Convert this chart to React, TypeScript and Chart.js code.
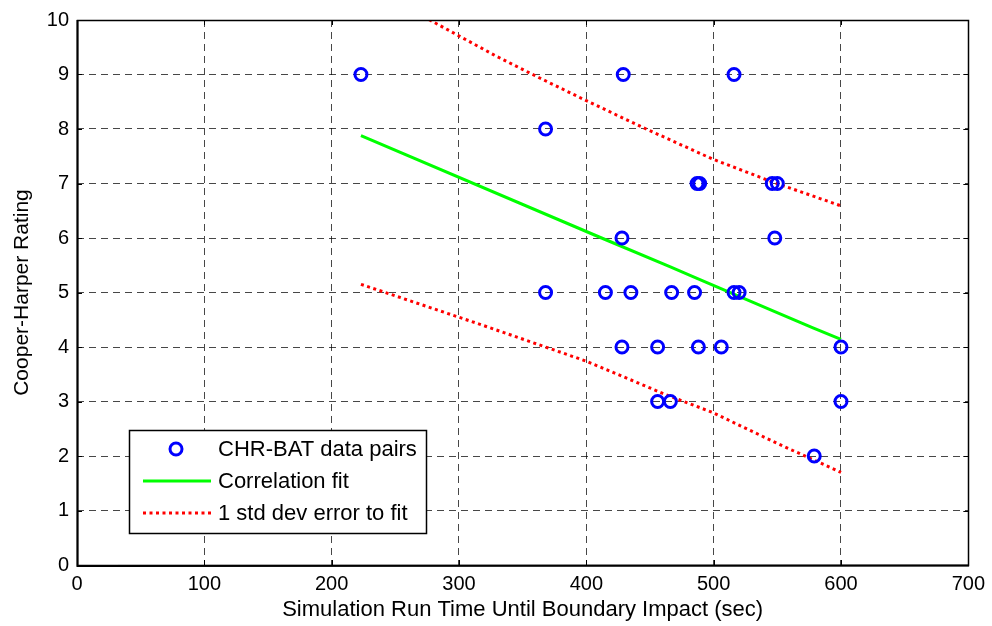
import React, { useEffect, useRef } from 'react';
import { Chart, registerables } from 'chart.js';

Chart.register(...registerables);

// CHR-BAT data pairs (run time in sec, Cooper-Harper rating)
const pairTimes = [223, 429, 516, 368, 487, 489, 546, 550, 428, 548, 368, 415, 435, 467, 485, 516, 520, 428, 456, 488, 506, 600, 456, 466, 600, 579];
const pairRatings = [9, 9, 9, 8, 7, 7, 7, 7, 6, 6, 5, 5, 5, 5, 5, 5, 5, 4, 4, 4, 4, 4, 3, 3, 3, 2];

// Correlation fit
const fitTimes = [223, 412, 466, 486, 548, 578, 600];
const fitRatings = [7.88, 6.0, 5.47, 5.27, 4.65, 4.35, 4.14];

// 1 std dev error bands
const upperTimes = [223, 277, 329, 363, 400, 447, 499, 546, 600];
const upperRatings = [10.7, 10.0, 9.34, 8.94, 8.52, 8.0, 7.45, 7.03, 6.59];
const lowerTimes = [223, 316, 400, 462, 499, 551, 600];
const lowerRatings = [5.15, 4.42, 3.74, 3.13, 2.8, 2.22, 1.7];

const xTickValues = [0, 100, 200, 300, 400, 500, 600, 700];
const yTickValues = [0, 1, 2, 3, 4, 5, 6, 7, 8, 9, 10];

const seriesLabels = ['CHR-BAT data pairs', 'Correlation fit', '1 std dev error to fit'];
const xTitle = 'Simulation Run Time Until Boundary Impact (sec)';
const yTitle = 'Cooper-Harper Rating';

const FONT = '"Liberation Sans", Arial, Helvetica, sans-serif';

const toPoints = (xs: number[], ys: number[]) => xs.map((x, i) => ({ x, y: ys[i] }));

const boxPlugin = {
  id: 'matlabBox',
  afterDatasetsDraw(chart: any) {
    const { ctx, chartArea } = chart;
    const xs = chart.scales.x;
    const ys = chart.scales.y;
    const { left, right, top, bottom } = chartArea;
    ctx.save();
    ctx.strokeStyle = '#000';
    ctx.lineWidth = 1;
    ctx.setLineDash([]);
    const t = 5;
    ctx.beginPath();
    xTickValues.forEach((v) => {
      const px = Math.round(xs.getPixelForValue(v)) + 0.5;
      ctx.moveTo(px, bottom);
      ctx.lineTo(px, bottom - t);
      ctx.moveTo(px, top);
      ctx.lineTo(px, top + t);
    });
    yTickValues.forEach((v) => {
      const py = Math.round(ys.getPixelForValue(v)) + 0.5;
      ctx.moveTo(left, py);
      ctx.lineTo(left + t, py);
      ctx.moveTo(right, py);
      ctx.lineTo(right - t, py);
    });
    ctx.stroke();
    ctx.lineWidth = 1.5;
    ctx.strokeRect(Math.round(left) + 0.5, Math.round(top) + 0.5, Math.round(right - left), Math.round(bottom - top));
    // slightly heavier left and bottom axis lines
    ctx.lineWidth = 2;
    ctx.beginPath();
    ctx.moveTo(Math.round(left) + 0.5, Math.round(top));
    ctx.lineTo(Math.round(left) + 0.5, Math.round(bottom) + 1);
    ctx.lineTo(Math.round(right) + 1, Math.round(bottom) + 0.5);
    ctx.stroke();
    ctx.restore();
  },
  afterDraw(chart: any) {
    const { ctx, chartArea } = chart;
    const ds = chart.data.datasets;
    const bx = chartArea.left + 52;
    const by = chartArea.bottom - 135;
    const bw = 297;
    const bh = 103;
    ctx.save();
    ctx.fillStyle = '#fff';
    ctx.fillRect(bx, by, bw, bh);
    ctx.strokeStyle = '#000';
    ctx.lineWidth = 1.5;
    ctx.setLineDash([]);
    ctx.strokeRect(bx + 0.5, by + 0.5, bw, bh);
    const rows = [by + 19, by + 51, by + 83];
    const lx1 = bx + 14;
    const lx2 = bx + 82;
    // points sample
    ctx.beginPath();
    ctx.strokeStyle = ds[0].borderColor;
    ctx.lineWidth = ds[0].borderWidth;
    ctx.arc(bx + 47, rows[0], ds[0].pointRadius, 0, Math.PI * 2);
    ctx.stroke();
    // fit sample
    ctx.beginPath();
    ctx.strokeStyle = ds[1].borderColor;
    ctx.lineWidth = ds[1].borderWidth;
    ctx.moveTo(lx1, rows[1]);
    ctx.lineTo(lx2, rows[1]);
    ctx.stroke();
    // error sample
    ctx.beginPath();
    ctx.strokeStyle = ds[2].borderColor;
    ctx.lineWidth = ds[2].borderWidth;
    ctx.setLineDash(ds[2].borderDash);
    ctx.moveTo(lx1, rows[2]);
    ctx.lineTo(lx2, rows[2]);
    ctx.stroke();
    ctx.setLineDash([]);
    ctx.fillStyle = '#000';
    ctx.font = `22px ${FONT}`;
    ctx.textBaseline = 'middle';
    ctx.textAlign = 'left';
    seriesLabels.forEach((s, i) => ctx.fillText(s, bx + 89, rows[i] + 1));
    ctx.restore();
  },
};

export default function App() {
  const ref = useRef<HTMLCanvasElement | null>(null);
  useEffect(() => {
    if (!ref.current) return;
    const gridColor = 'rgba(0,0,0,0.72)';
    const chart = new Chart(ref.current, {
      type: 'scatter',
      data: {
        datasets: [
          {
            label: seriesLabels[0],
            data: toPoints(pairTimes, pairRatings),
            showLine: false,
            pointRadius: 6,
            pointStyle: 'circle',
            borderColor: '#0000ff',
            backgroundColor: 'rgba(0,0,0,0)',
            borderWidth: 3,
            pointBorderWidth: 3,
            order: 0,
          } as any,
          {
            label: seriesLabels[1],
            data: toPoints(fitTimes, fitRatings),
            showLine: true,
            pointRadius: 0,
            borderColor: '#00ff00',
            borderWidth: 3,
            tension: 0,
            order: 1,
          },
          {
            label: seriesLabels[2],
            data: toPoints(upperTimes, upperRatings),
            showLine: true,
            pointRadius: 0,
            borderColor: '#ff0000',
            borderWidth: 3,
            borderDash: [3, 3.5],
            tension: 0,
            order: 2,
          },
          {
            label: '',
            data: toPoints(lowerTimes, lowerRatings),
            showLine: true,
            pointRadius: 0,
            borderColor: '#ff0000',
            borderWidth: 3,
            borderDash: [3, 3.5],
            tension: 0,
            order: 3,
          },
        ],
      },
      options: {
        animation: false,
        responsive: true,
        maintainAspectRatio: false,
        layout: { padding: { top: 17, right: 22, left: 0, bottom: 0 } },
        plugins: {
          legend: { display: false },
          tooltip: { enabled: false },
        },
        scales: {
          x: {
            type: 'linear',
            min: 0,
            max: 700,
            afterFit: (s: any) => { s.height = 61; },
            afterBuildTicks: (s: any) => { s.ticks = xTickValues.map((v) => ({ value: v })); },
            ticks: { color: '#000', font: { family: FONT, size: 20 }, padding: 7, maxRotation: 0 },
            grid: { color: gridColor, lineWidth: 1, drawTicks: false },
            border: { display: false, dash: [7, 5] },
            title: { display: true, text: xTitle, color: '#000', font: { family: FONT, size: 22 }, padding: { top: 0, bottom: 3 } },
          },
          y: {
            type: 'linear',
            min: 0,
            max: 10,
            afterFit: (s: any) => { s.width = 77; },
            afterBuildTicks: (s: any) => { s.ticks = yTickValues.map((v) => ({ value: v })); },
            ticks: { color: '#000', font: { family: FONT, size: 20 }, padding: 8 },
            grid: { color: gridColor, lineWidth: 1, drawTicks: false },
            border: { display: false, dash: [7, 5] },
            title: { display: true, text: yTitle, color: '#000', font: { family: FONT, size: 21 }, padding: { top: 10, bottom: 0 } },
          },
        },
      },
      plugins: [boxPlugin],
    });
    return () => chart.destroy();
  }, []);
  return (
    <div style={{ position: 'fixed', left: 0, top: 0, width: 992, height: 626, background: '#fff' }}>
      <canvas ref={ref} />
    </div>
  );
}
